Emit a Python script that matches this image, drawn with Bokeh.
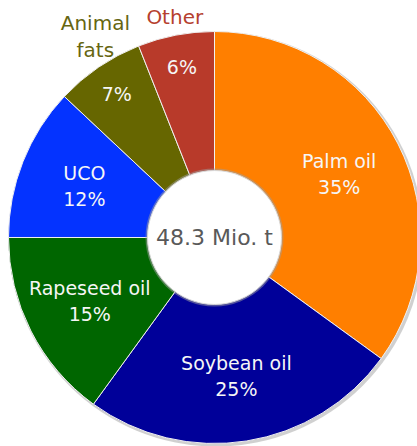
import math
from bokeh.plotting import figure
from bokeh.models import Range1d, ColumnDataSource
from bokeh.embed import file_html
from bokeh.resources import INLINE
from bokeh.core.properties import value

# ---- data ----
categories = ["Palm oil", "Soybean oil", "Rapeseed oil", "UCO", "Animal fats", "Other"]
shares = [35, 25, 15, 12, 7, 6]
colors = ["#FF7F00", "#000099", "#006600", "#0433FF", "#666600", "#B83A2A"]
outer_label_colors = ["#666611", "#B5402E"]
outer_label_texts = ["Animal\nfats", "Other"]
total_label = "48.3 Mio. t"

# ---- layout ----
W, H = 417, 446
cx, cy = 214, H - 237
R_OUT, R_IN = 206, 67
FONT = value("DejaVu Sans")

p = figure(width=W, height=H, output_backend="svg", toolbar_location=None,
           x_range=Range1d(0, W), y_range=Range1d(0, H),
           x_axis_location=None, y_axis_location=None, min_border=0,
           outline_line_color=None, background_fill_color="white",
           border_fill_color="white")
p.grid.visible = False

# angles
starts, ends, mids = [], [], []
cum = 0
for s in shares:
    a0 = math.pi / 2 - cum / 100 * 2 * math.pi
    cum += s
    a1 = math.pi / 2 - cum / 100 * 2 * math.pi
    starts.append(a0)
    ends.append(a1)
    mids.append((a0 + a1) / 2)

# outer shadow
p.circle(x=[cx + 1.5], y=[cy - 1.5], radius=R_OUT + 1.5, fill_color="#B0B0B0",
         fill_alpha=0.6, line_color=None)

src = ColumnDataSource(dict(start=starts, end=ends, color=colors))
p.annular_wedge(x=cx, y=cy, inner_radius=R_IN - 2, outer_radius=R_OUT,
                start_angle="start", end_angle="end", direction="clock",
                fill_color="color", line_color="#F0F0F0", line_width=1,
                source=src)

# inner circle with shadow
p.circle(x=[cx], y=[cy], radius=R_IN + 2, fill_color="#A0A0A0", fill_alpha=0.5,
         line_color=None)
p.circle(x=[cx], y=[cy], radius=R_IN, fill_color="white", line_color="#D8D8D8",
         line_width=1)

# labels inside slices
big_x, big_y, big_t = [], [], []
small_x, small_y, small_t = [], [], []
for cat, s, m in zip(categories, shares, mids):
    if s >= 10:
        r = 140
        big_x.append(cx + r * math.cos(m))
        big_y.append(cy + r * math.sin(m))
        big_t.append(f"{cat}\n{s}%")
    else:
        r = 174
        small_x.append(cx + r * math.cos(m))
        small_y.append(cy + r * math.sin(m))
        small_t.append(f"{s}%")

p.text(x=big_x, y=big_y, text=big_t, text_align="center", text_baseline="middle",
       text_font=FONT, text_font_size="19px", text_color="#F6F6F6",
       text_line_height=1.2)
p.text(x=small_x, y=small_y, text=small_t, text_align="center",
       text_baseline="middle", text_font=FONT, text_font_size="19px",
       text_color="#F6F6F6")

# outer labels for the small slices
ox, oy = [], []
for s, m in zip(shares, mids):
    if s < 10:
        r = R_OUT + 6
        ox.append(cx + r * math.cos(m))
        oy.append(cy + r * math.sin(m))
p.text(x=ox, y=oy, text=outer_label_texts, text_align="center",
       text_baseline="bottom", text_font=FONT, text_font_size="20px",
       text_color=outer_label_colors, text_line_height=1.15)

# center total
p.text(x=[cx], y=[cy], text=[total_label], text_align="center",
       text_baseline="middle", text_font=FONT, text_font_size="22px",
       text_color="#595959")

open("out.html", "w").write(file_html(p, INLINE))
